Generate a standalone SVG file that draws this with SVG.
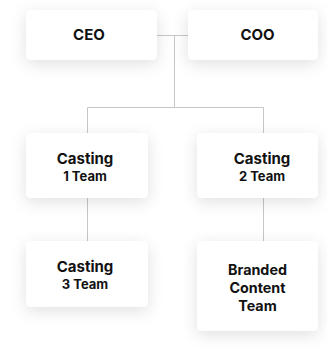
<svg xmlns="http://www.w3.org/2000/svg" width="327" height="356" viewBox="0 0 327 356">
<style>
.box{fill:#fff;filter:url(#sh)}
.t{font-family:Inter,"Liberation Sans",sans-serif;font-weight:700;fill:#111;text-anchor:middle}
.l{fill:none;stroke:#c6c6c6;stroke-width:1}
</style>
<defs>
<filter id="sh" x="-30%" y="-40%" width="160%" height="190%">
<feDropShadow dx="0" dy="4" stdDeviation="8" flood-color="#000" flood-opacity="0.12"/>
</filter>
</defs>
<rect width="327" height="356" fill="#fff"/>
<g id="connectors">
<path class="l" d="M157 35.5H188M174.5 35.5V107.5M87.5 107.5H263.5M87.5 107.5V133M263.5 107.5V133M87.5 198V241M263.5 198V241"/>
</g>
<g id="ceo"><rect class="box" x="26" y="10" width="131" height="50" rx="5"/><text class="t" x="89" y="39.5" font-size="15">CEO</text></g>
<g id="coo"><rect class="box" x="188" y="10" width="130" height="50" rx="5"/><text class="t" x="257.5" y="39.5" font-size="15">COO</text></g>
<g id="casting1"><rect class="box" x="26" y="133" width="122" height="65" rx="5"/><text class="t" x="85" y="163.5" font-size="15">Casting</text><text class="t" x="85" y="181" font-size="13">1 Team</text></g>
<g id="casting2"><rect class="box" x="197" y="133" width="121" height="65" rx="5"/><text class="t" x="262" y="163.5" font-size="15">Casting</text><text class="t" x="262" y="181" font-size="13">2 Team</text></g>
<g id="casting3"><rect class="box" x="26" y="241" width="122" height="66" rx="5"/><text class="t" x="85" y="271.5" font-size="15">Casting</text><text class="t" x="85" y="289" font-size="13">3 Team</text></g>
<g id="branded"><rect class="box" x="197" y="241" width="121" height="90" rx="5"/><text class="t" x="257.5" y="274.5" font-size="14.3">Branded</text><text class="t" x="257.5" y="292.5" font-size="14.3">Content</text><text class="t" x="257.5" y="310.5" font-size="14.3">Team</text></g>
</svg>
